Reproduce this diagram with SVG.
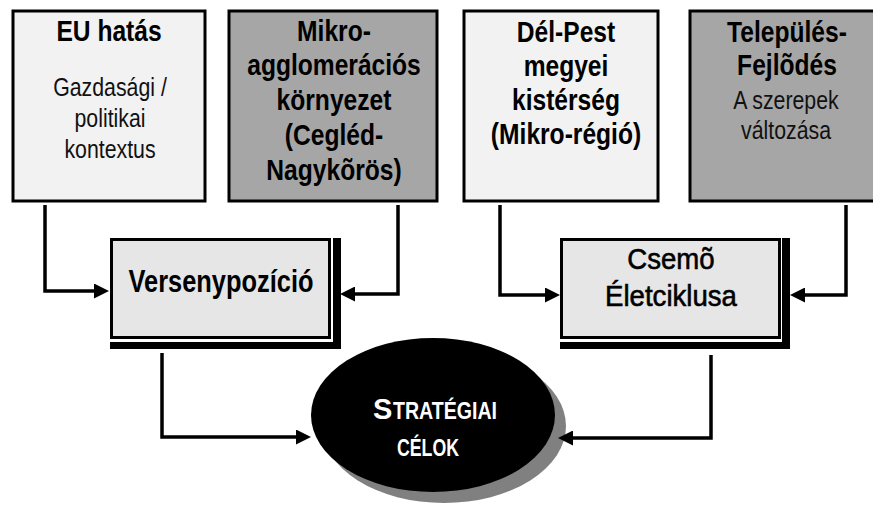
<svg xmlns="http://www.w3.org/2000/svg" width="873" height="510" viewBox="0 0 873 510">
<style>
.box{stroke:#000;stroke-width:3}
.light{fill:#f2f2f2}
.dark{fill:#a6a6a6}
.mid{fill:#e6e6e6}
.b{font-family:"Liberation Sans",Arial,sans-serif;font-weight:bold;font-size:30px;text-anchor:middle;fill:#000}
.r{font-family:"Liberation Sans",Arial,sans-serif;font-size:26px;text-anchor:middle;fill:#111}
.m{font-family:"Liberation Sans",Arial,sans-serif;font-size:30px;text-anchor:middle;fill:#000;stroke:#000;stroke-width:0.6}
.e{font-family:"Liberation Sans",Arial,sans-serif;font-weight:bold;font-size:24px;fill:#fff}
.c{fill:none;stroke:#000;stroke-width:3.5}
</style>
<defs>
<marker id="arr" markerUnits="userSpaceOnUse" markerWidth="15" markerHeight="15" refX="0" refY="7.5" orient="auto">
<path d="M0,0 L15,7.5 L0,15 z" fill="#000"/>
</marker>
</defs>
<rect width="873" height="510" fill="#fff"/>
<g id="eu">
<rect class="box light" x="13" y="11" width="192" height="190"/>
<text class="b" transform="translate(109 0) scale(0.82 1)"><tspan x="0" y="41">EU hatás</tspan></text>
<text class="r" transform="translate(110 0) scale(0.82 1)"><tspan x="0" y="96">Gazdasági /</tspan><tspan x="0" y="127">politikai</tspan><tspan x="0" y="158">kontextus</tspan></text>
</g>
<g id="mikro">
<rect class="box dark" x="229" y="11" width="208" height="190"/>
<text class="b" transform="translate(334 0) scale(0.82 1)"><tspan x="0" y="41">Mikro-</tspan><tspan x="0" y="75">agglomerációs</tspan><tspan x="0" y="110">környezet</tspan><tspan x="0" y="145">(Cegléd-</tspan><tspan x="0" y="180">Nagykõrös)</tspan></text>
</g>
<g id="delpest">
<rect class="box light" x="464" y="11" width="194" height="190"/>
<text class="b" transform="translate(566 0) scale(0.82 1)"><tspan x="0" y="42">Dél-Pest</tspan><tspan x="0" y="76">megyei</tspan><tspan x="0" y="110">kistérség</tspan><tspan x="0" y="144">(Mikro-régió)</tspan></text>
</g>
<g id="telepules">
<rect class="box dark" x="690" y="11" width="200" height="190"/>
<text class="b" transform="translate(787 0) scale(0.82 1)"><tspan x="0" y="42">Település-</tspan><tspan x="0" y="75">Fejlõdés</tspan></text>
<text class="r" transform="translate(786 0) scale(0.82 1)"><tspan x="0" y="109">A szerepek</tspan><tspan x="0" y="139">változása</tspan></text>
</g>
<g id="verseny">
<rect x="110" y="238" width="231" height="111" fill="#000"/>
<rect x="110" y="238" width="223" height="104" fill="#fff"/>
<rect class="box mid" x="111.5" y="239.5" width="218" height="98"/>
<text class="b" transform="translate(221 0) scale(0.82 1)" style="font-size:31px"><tspan x="0" y="292">Versenypozíció</tspan></text>
</g>
<g id="csemo">
<rect x="560" y="238" width="230" height="111" fill="#000"/>
<rect x="560" y="238" width="222" height="104" fill="#fff"/>
<rect class="box mid" x="561.5" y="239.5" width="218" height="98"/>
<text class="m" transform="translate(671 0) scale(0.92 1)"><tspan x="0" y="269">Csemõ</tspan><tspan x="0" y="306">Életciklusa</tspan></text>
</g>
<g id="celok">
<ellipse cx="444" cy="426" rx="122" ry="77" fill="#808080"/>
<ellipse cx="433" cy="415" rx="122" ry="77" fill="#000"/>
<text class="e" x="373" y="419" style="font-size:29px">S</text>
<text class="e" x="393" y="419" textLength="104" lengthAdjust="spacingAndGlyphs">TRATÉGIAI</text>
<text class="e" x="397" y="456" textLength="62" lengthAdjust="spacingAndGlyphs">CÉLOK</text>
</g>
<g id="connectors">
<path class="c" d="M45,205 V291 H94" marker-end="url(#arr)"/>
<path class="c" d="M398,205 V294 H355" marker-end="url(#arr)"/>
<path class="c" d="M162,353 V437 H296" marker-end="url(#arr)"/>
<path class="c" d="M500,205 V295 H545" marker-end="url(#arr)"/>
<path class="c" d="M846,205 V295 H805" marker-end="url(#arr)"/>
<path class="c" d="M711,355 V438 H573" marker-end="url(#arr)"/>
</g>
</svg>
